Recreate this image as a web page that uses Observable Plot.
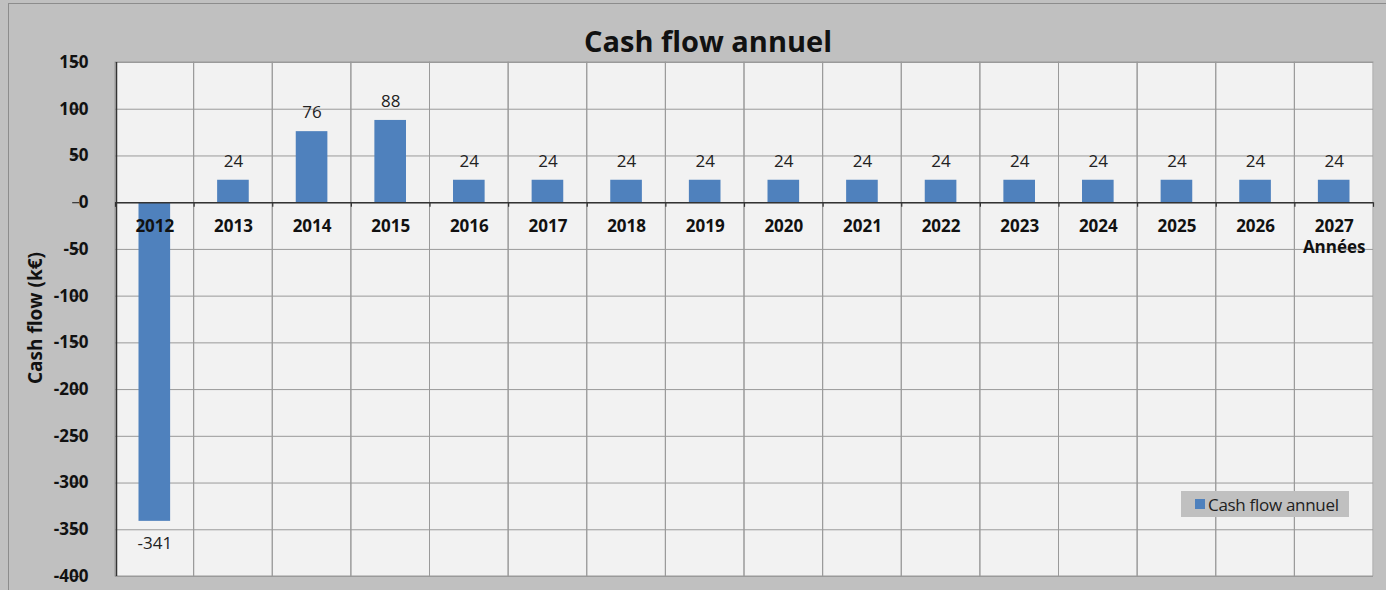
<!DOCTYPE html>
<html>
<head>
<meta charset="utf-8">
<script src="https://cdn.jsdelivr.net/npm/d3@7"></script>
<script src="https://cdn.jsdelivr.net/npm/@observablehq/plot@0.6"></script>
<style>
  html, body { margin: 0; padding: 0; background: #ffffff; }
  #wrap { position: relative; width: 1386px; height: 590px; background: #c0c0c0; overflow: hidden; font-family: "Open Sans", Lato, sans-serif; }
  #frame { position: absolute; left: 8px; top: 3px; width: 1384px; height: 600px; border: 1px solid #8c8c8c; box-sizing: border-box; pointer-events: none; }
  #title { position: absolute; left: 0; width: 1416px; top: 21px; text-align: center; font-weight: bold; font-size: 29px; color: #111; }
  #ylabel { position: absolute; left: 35px; top: 318px; transform: translate(-50%, -50%) rotate(-90deg); font-weight: bold; font-size: 19px; white-space: nowrap; color: #111; }
  #legend { position: absolute; left: 1181px; top: 491px; width: 168px; height: 26px; background: #c0c0c0; display: flex; align-items: center; font-size: 17px; color: #222; letter-spacing: -0.3px; }
  #legend .sw { display: inline-block; width: 10px; height: 10px; background: #4f81bd; margin: 0 3px 0 14px; }
  #chart { position: absolute; left: 0; top: 0; }
</style>
</head>
<body>
<div id="wrap">
  <div id="chart"></div>
  <div id="frame"></div>
  <div id="title">Cash flow annuel</div>
  <div id="ylabel">Cash flow (k€)</div>
  <div id="legend"><span class="sw"></span>Cash flow annuel</div>
</div>
<script>
const years = ["2012","2013","2014","2015","2016","2017","2018","2019","2020","2021","2022","2023","2024","2025","2026","2027"];
const cashFlow = [-341, 24, 76, 88, 24, 24, 24, 24, 24, 24, 24, 24, 24, 24, 24, 24];
const yTicks = [150, 100, 50, 0, -50, -100, -150, -200, -250, -300, -350, -400];
const xAxisTitle = "Années";

const data = years.map((y, i) => ({year: y, value: cashFlow[i]}));
const bandW = (1373 - 115) / years.length;

const chart = Plot.plot({
  width: 1386,
  height: 590,
  marginLeft: 115,
  marginRight: 13,
  marginTop: 62,
  marginBottom: 14,
  style: {background: "transparent", fontFamily: "'Open Sans', Lato, sans-serif"},
  x: {type: "band", domain: years, padding: 0, round: false, axis: null},
  y: {domain: [-400, 150], axis: null},
  marks: [
    Plot.frame({fill: "#f2f2f2"}),
    Plot.ruleY(yTicks, {stroke: "#9a9a9a", strokeWidth: 1}),
    Plot.cell(years, {x: d => d, fill: "none", stroke: "#9a9a9a", strokeWidth: 1}),
    Plot.barY(data, {x: "year", y: "value", fill: "#4f81bd", insetLeft: 23.5, insetRight: 23.5}),
    Plot.ruleY([0], {stroke: "#333", strokeWidth: 1.5}),
    Plot.ruleX(years, {x: d => d, y1: 0, y2: -5, dx: -bandW / 2, stroke: "#333", strokeWidth: 1.2}),
    Plot.ruleX(years.slice(-1), {x: d => d, y1: 0, y2: -5, dx: bandW / 2, stroke: "#333", strokeWidth: 1.2}),
    Plot.ruleX([-400], {x: () => years[0], y1: -400, y2: 150, dx: -bandW / 2 + 1, stroke: "#333", strokeWidth: 1.5}),
    Plot.tickY(yTicks, {y: d => d, x: () => years[0], dx: -bandW / 2 - 3.5, stroke: "#333", strokeWidth: 1.2, insetLeft: 0, insetRight: bandW - 7}),
    Plot.text(yTicks, {y: d => d, x: () => years[0], dx: -bandW / 2 - 27, text: d => String(d), textAnchor: "end", fontWeight: "bold", fontSize: 17, fill: "#111", lineAnchor: "middle"}),
    Plot.text(data, {x: "year", y: 0, dy: 24, text: "year", fontWeight: "bold", fontSize: 17, fill: "#111"}),
    Plot.text([xAxisTitle], {x: () => years[years.length - 1], y: 0, dy: 45, text: d => d, fontWeight: "bold", fontSize: 17, fill: "#111"}),
    Plot.text(data.filter(d => d.value >= 0), {x: "year", y: "value", dy: -19, text: d => String(d.value), fontSize: 17, fill: "#222"}),
    Plot.text(data.filter(d => d.value < 0), {x: "year", y: "value", dy: 22, text: d => String(d.value), fontSize: 17, fill: "#222"})
  ]
});
document.getElementById("chart").appendChild(chart);
</script>
</body>
</html>
